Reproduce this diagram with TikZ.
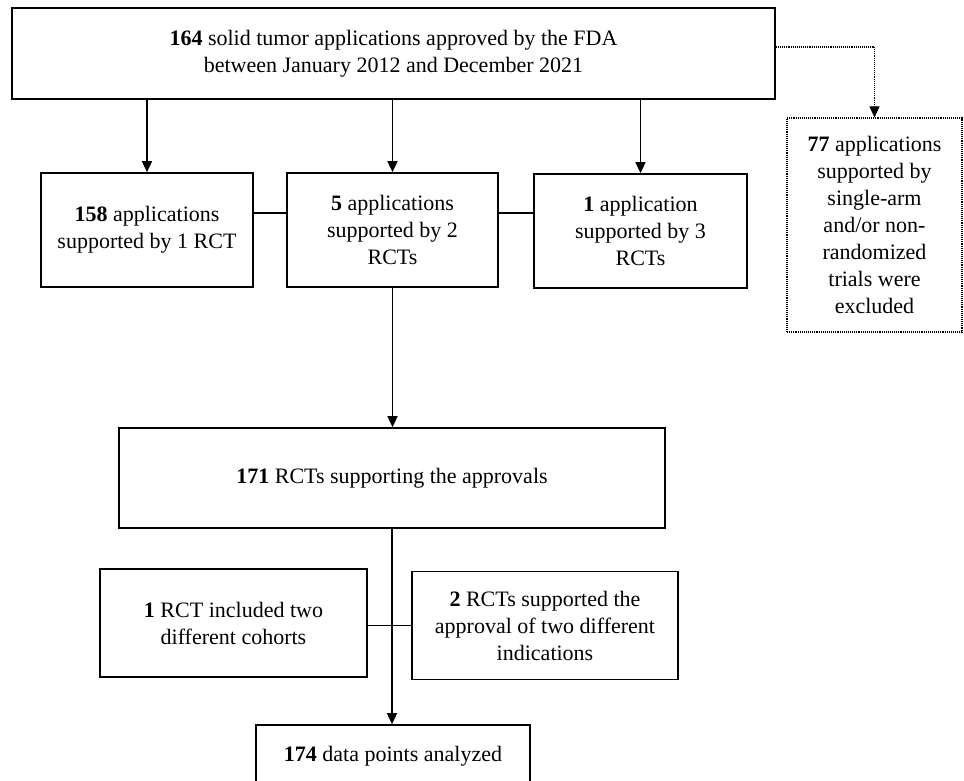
\documentclass[tikz,border=0pt]{standalone}
\usepackage{fontspec}
\setmainfont{Liberation Serif}
\usetikzlibrary{arrows.meta}
\begin{document}
\begin{tikzpicture}[x=1pt,y=-1pt,line width=1.7pt,>={Stealth[length=11pt,width=10pt,inset=0pt]},box/.style={draw,inner sep=0pt,align=center,font=\fontsize{22}{27}\selectfont},exbox/.style={box,densely dotted,line width=1.1pt}]
\clip (0,0) rectangle (964,781);
\node[box,minimum width=763pt,minimum height=91pt] (t) at (393.5,53.5) {\textbf{164} solid tumor applications approved by the FDA\\between January 2012 and December 2021};
\node[box,minimum width=212pt,minimum height=114pt] (b1) at (147,230) {\textbf{158} applications\\supported by 1 RCT};
\node[box,minimum width=211pt,minimum height=114pt] (b2) at (392.5,230) {\textbf{5} applications\\supported by 2\\RCTs};
\node[box,minimum width=213pt,minimum height=114pt] (b3) at (640.5,231) {\textbf{1} application\\supported by 3\\RCTs};
\node[exbox,minimum width=175pt,minimum height=214pt] (ex) at (874.5,225) {\textbf{77} applications\\supported by\\single-arm\\and/or non-\\randomized\\trials were\\excluded};
\node[box,minimum width=546pt,minimum height=100pt] (c) at (392,478) {\textbf{171} RCTs supporting the approvals};
\node[box,minimum width=267pt,minimum height=108pt] (d1) at (233.5,623) {\textbf{1} RCT included two\\different cohorts};
\node[box,minimum width=266pt,minimum height=108pt] (d2) at (545,625.5) {\textbf{2} RCTs supported the\\approval of two different\\indications};
\node[box,minimum width=274pt,minimum height=62pt] (e) at (393,756) {\textbf{174} data points analyzed};
\foreach \i in {1,2,3}{\draw[->] (t.south -| b\i.north) -- (b\i.north);};
\draw[densely dotted,line width=1.1pt,->] ([yshift=6.5pt]t.east) -| (ex.north);
\draw ([yshift=17pt]b1.east) -- ([yshift=17pt]b2.west);
\draw ([yshift=17pt]b2.east) -- ([yshift=18pt]b3.west);
\draw[->] (b2.south) -- (b2.south |- c.north);
\draw[->] (c.south) -- (c.south |- e.north);
\draw (d1.east |- d2) -- (d2.west);
\end{tikzpicture}
\end{document}
